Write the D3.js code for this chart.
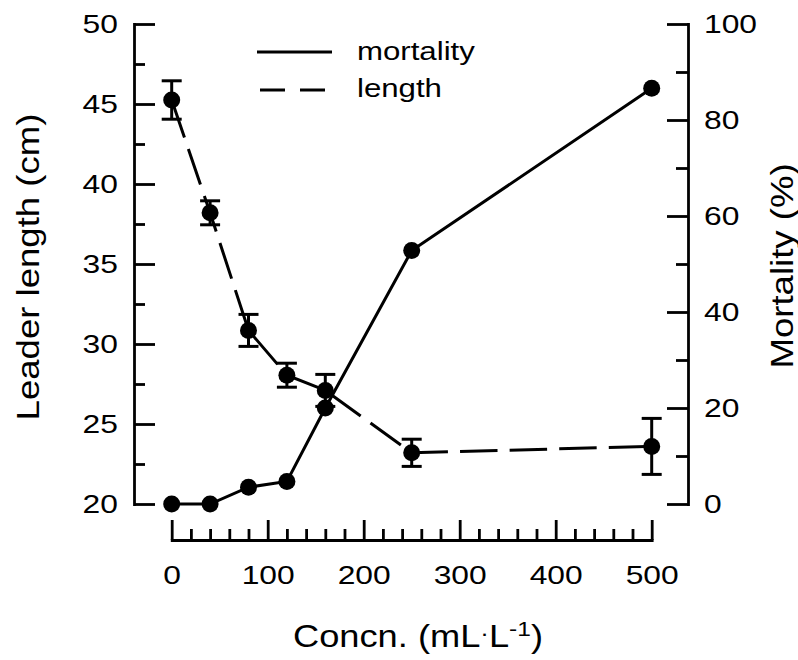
<!DOCTYPE html>
<html>
<head>
  <script src="https://d3js.org/d3.v7.min.js"></script>
  <style>
    body { margin: 0; background: #fff; }
    svg { font-family: "Liberation Sans", Arial, sans-serif; }
    .axis path, .axis line { stroke: #000; stroke-width: 2.8; }
    .axis text { font-size: 26.5px; fill: #000; font-family: "Liberation Sans", Arial, sans-serif; }
    .title { font-size: 31px; fill: #000; }
  </style>
</head>
<body>
  <script>
    var width = 798,
        height = 660;

    // concentration (mL/L)
    var conc = [0, 40, 80, 120, 160, 250, 500];
    // mortality (%)
    var mortality = [0, 0, 3.5, 4.7, 20, 52.8, 86.6];
    // leader length (cm) and its error
    var leaderLen = [45.25, 38.2, 30.85, 28.05, 27.1, 23.2, 23.6];
    var leaderErr = [1.2, 0.75, 1.0, 0.75, 1.0, 0.85, 1.75];

    var xTicks = [0, 100, 200, 300, 400, 500];
    var lenTicks = [20, 25, 30, 35, 40, 45, 50];
    var mortTicks = [0, 20, 40, 60, 80, 100];

    var x = d3.scaleLinear().domain([0, 500]).range([171.7, 651.7]);
    var yLen = d3.scaleLinear().domain([20, 50]).range([504, 24]);
    var yMort = d3.scaleLinear().domain([0, 100]).range([504, 24]);

    // the figure's font is wider than Arial, stretch text around its anchor
    function stretch(sel, k) {
      sel.each(function() {
        var t = d3.select(this), x0 = +t.attr("x") || 0, y0 = +t.attr("y") || 0;
        t.attr("transform", "translate(" + x0 + "," + y0 + ") scale(" + k + ",1) translate(" + (-x0) + "," + (-y0) + ")");
      });
    }

    var svg = d3.select("body").append("svg").attr("width", width).attr("height", height);

    // left axis
    svg.append("g").attr("class", "axis").attr("transform", "translate(134,0)")
      .call(d3.axisLeft(yLen).tickValues(lenTicks).tickSizeInner(-21).tickSizeOuter(0).tickPadding(16));
    svg.append("g").attr("class", "axis").attr("transform", "translate(134,0)")
      .call(d3.axisLeft(yLen).tickValues(d3.range(22.5, 50, 5)).tickSize(-11).tickFormat(""))
      .select(".domain").remove();

    // right axis
    svg.append("g").attr("class", "axis").attr("transform", "translate(688,0)")
      .call(d3.axisRight(yMort).tickValues(mortTicks).tickSizeInner(-21).tickSizeOuter(0).tickPadding(16));
    svg.append("g").attr("class", "axis").attr("transform", "translate(688,0)")
      .call(d3.axisRight(yMort).tickValues(d3.range(10, 100, 20)).tickSize(-12).tickFormat(""))
      .select(".domain").remove();

    // bottom axis, ticks pointing up
    svg.append("g").attr("class", "axis").attr("transform", "translate(0,540)")
      .call(d3.axisBottom(x).tickValues(xTicks).tickSizeInner(-20).tickSizeOuter(0).tickPadding(25));
    svg.append("g").attr("class", "axis").attr("transform", "translate(0,540)")
      .call(d3.axisBottom(x).tickValues(d3.range(0, 501, 20).filter(function(v) { return v % 100 != 0; })).tickSize(-11).tickFormat(""))
      .select(".domain").remove();
    svg.selectAll(".axis .domain").attr("stroke-linecap", "square");
    stretch(svg.selectAll(".axis text"), 1.2);

    // axis titles
    svg.append("text").attr("class", "title")
      .attr("transform", "translate(39,267) rotate(-90) scale(1.18,1)")
      .attr("text-anchor", "middle")
      .text("Leader length (cm)");
    svg.append("text").attr("class", "title")
      .attr("transform", "translate(793,266) rotate(-90) scale(1.18,1)")
      .attr("text-anchor", "middle")
      .text("Mortality (%)");
    var xt = svg.append("text").attr("class", "title").attr("x", 293).attr("y", 647);
    xt.append("tspan").text("Concn. (mL");
    xt.append("tspan").attr("font-size", "22px").attr("dy", -6).text("·");
    xt.append("tspan").attr("dy", 6).text("L");
    xt.append("tspan").attr("font-size", "21px").attr("dy", -11).text("-1");
    xt.append("tspan").attr("dy", 11).text(")");
    stretch(xt, 1.17);

    var pts = conc.map(function(c, i) {
      return { c: c, m: mortality[i], l: leaderLen[i], e: leaderErr[i] };
    });

    // length: dashed line
    svg.append("path").datum(pts)
      .attr("fill", "none").attr("stroke", "#000").attr("stroke-width", 3)
      .attr("stroke-dasharray", "37.5,12.1").attr("stroke-dashoffset", 47.5)
      .attr("d", d3.line().x(function(d) { return x(d.c); }).y(function(d) { return yLen(d.l); }));

    // mortality: solid line
    svg.append("path").datum(pts)
      .attr("fill", "none").attr("stroke", "#000").attr("stroke-width", 3)
      .attr("d", d3.line().x(function(d) { return x(d.c); }).y(function(d) { return yMort(d.m); }));

    // error bars
    var eb = svg.append("g").attr("stroke", "#000").attr("stroke-width", 3);
    eb.selectAll(".ev").data(pts).enter().append("line")
      .attr("x1", function(d) { return x(d.c); }).attr("x2", function(d) { return x(d.c); })
      .attr("y1", function(d) { return yLen(d.l - d.e); }).attr("y2", function(d) { return yLen(d.l + d.e); });
    eb.selectAll(".et").data(pts).enter().append("line")
      .attr("x1", function(d) { return x(d.c) - 10; }).attr("x2", function(d) { return x(d.c) + 10; })
      .attr("y1", function(d) { return yLen(d.l + d.e); }).attr("y2", function(d) { return yLen(d.l + d.e); });
    eb.selectAll(".eb").data(pts).enter().append("line")
      .attr("x1", function(d) { return x(d.c) - 10; }).attr("x2", function(d) { return x(d.c) + 10; })
      .attr("y1", function(d) { return yLen(d.l - d.e); }).attr("y2", function(d) { return yLen(d.l - d.e); });

    // markers
    svg.selectAll(".dl").data(pts).enter().append("circle")
      .attr("cx", function(d) { return x(d.c); }).attr("cy", function(d) { return yLen(d.l); })
      .attr("r", 8.5).attr("fill", "#000");
    svg.selectAll(".dm").data(pts).enter().append("circle")
      .attr("cx", function(d) { return x(d.c); }).attr("cy", function(d) { return yMort(d.m); })
      .attr("r", 8.5).attr("fill", "#000");

    // legend
    svg.append("line").attr("x1", 257).attr("x2", 332).attr("y1", 52).attr("y2", 52)
      .attr("stroke", "#000").attr("stroke-width", 3);
    svg.append("line").attr("x1", 260).attr("x2", 328).attr("y1", 90).attr("y2", 90)
      .attr("stroke", "#000").attr("stroke-width", 3).attr("stroke-dasharray", "25,15");
    var lg = svg.append("g").attr("font-size", "26px");
    lg.append("text").attr("x", 357).attr("y", 60).text("mortality");
    lg.append("text").attr("x", 357).attr("y", 97).text("length");
    stretch(lg.selectAll("text"), 1.2);
  </script>
</body>
</html>
